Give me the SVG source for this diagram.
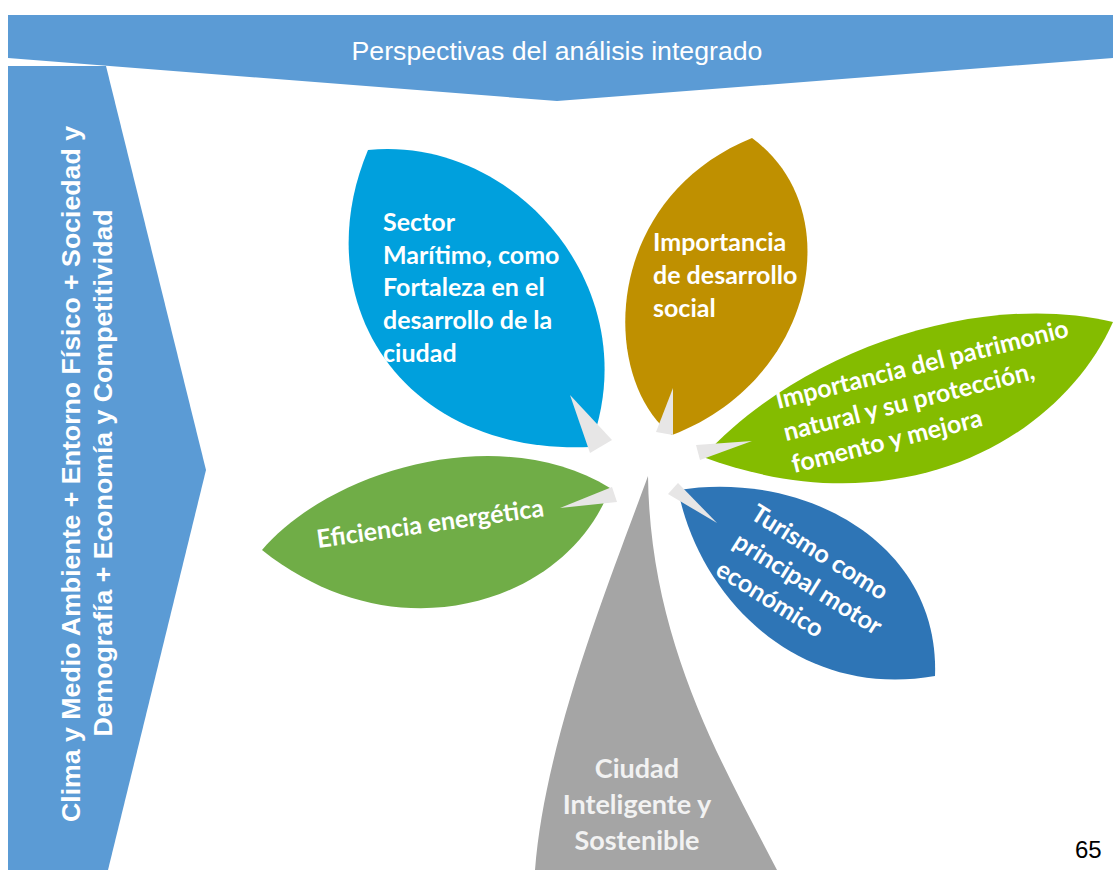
<svg xmlns="http://www.w3.org/2000/svg" width="1113" height="870" viewBox="0 0 1113 870">
<style>
.banner{fill:#5B9BD5}
.btxt{font-family:"Liberation Sans",Arial,sans-serif;fill:#fff}
.ptxt{font-family:Lato,"Open Sans",sans-serif;font-weight:bold;font-size:25px;fill:#fff}
.arrow{fill:#E7E6E6}
</style>
<rect width="1113" height="870" fill="#fff"/>
<g id="top-banner">
<polygon class="banner" points="8,15 1113,15 1113,58 557,101 8,58"/>
<text class="btxt" x="557" y="60" font-size="26.7" text-anchor="middle">Perspectivas del análisis integrado</text>
</g>
<g id="left-banner">
<polygon class="banner" points="8,66 106,66 206,470 108,870 8,870"/>
<text class="btxt" font-weight="bold" font-size="26.7" text-anchor="middle" transform="translate(80,474) rotate(-90)">Clima y Medio Ambiente + Entorno Físico + Sociedad y</text>
<text class="btxt" font-weight="bold" font-size="26.7" text-anchor="middle" transform="translate(112,473) rotate(-90)">Demografía + Economía y Competitividad</text>
</g>
<g id="petal-sector-maritimo">
<path d="M368,150 C515,135 650,290 590,447 C400,455 305,300 368,150 Z" fill="#00A0DD"/>
<text class="ptxt"><tspan x="383" y="231">Sector</tspan><tspan x="383" y="264">Marítimo, como</tspan><tspan x="383" y="296">Fortaleza en el</tspan><tspan x="383" y="329">desarrollo de la</tspan><tspan x="383" y="362">ciudad</tspan></text>
</g>
<g id="petal-desarrollo-social">
<path d="M752,138 C850,210 815,380 672,435 C600,380 600,200 752,138 Z" fill="#BF9000"/>
<text class="ptxt"><tspan x="653" y="251">Importancia</tspan><tspan x="653" y="284">de desarrollo</tspan><tspan x="653" y="317">social</tspan></text>
</g>
<g id="petal-patrimonio">
<path d="M703,457 C800,350 980,290 1113,322 C1060,440 900,530 703,457 Z" fill="#84BC00"/>
<text class="ptxt" transform="translate(778,409) rotate(-14)"><tspan x="0" y="0">Importancia del patrimonio</tspan><tspan x="0" y="33">natural y su protección,</tspan><tspan x="0" y="66">fomento y mejora</tspan></text>
</g>
<g id="petal-eficiencia">
<path d="M262,550 C330,470 500,420 610,488 C570,600 400,660 262,550 Z" fill="#70AD47"/>
<text class="ptxt" transform="translate(318,548) rotate(-8)">Eficiencia energética</text>
</g>
<g id="petal-turismo">
<path d="M678,490 C800,470 940,540 935,676 C800,700 700,600 678,490 Z" fill="#2E75B6"/>
<text class="ptxt" transform="translate(749,518) rotate(32)"><tspan x="0" y="0">Turismo como</tspan><tspan x="0" y="33">principal motor</tspan><tspan x="0" y="66">económico</tspan></text>
</g>
<g id="petal-ciudad">
<path d="M648,476 C610,580 545,740 535,870 L777,870 C720,760 650,640 648,476 Z" fill="#A5A5A5"/>
<text class="ptxt" style="fill:#F2F2F2;font-size:27px" text-anchor="middle"><tspan x="637" y="778">Ciudad</tspan><tspan x="637" y="814">Inteligente y</tspan><tspan x="637" y="850">Sostenible</tspan></text>
</g>
<g id="connectors">
<polygon class="arrow" points="570,395 612,440 590,453"/>
<polygon class="arrow" points="673,388 656,432 673,435"/>
<polygon class="arrow" points="696,445 752,441 700,460"/>
<polygon class="arrow" points="612,487 617,502 560,508"/>
<polygon class="arrow" points="678,483 668,494 717,523"/>
</g>
<g id="page-number">
<text x="1075" y="858" font-family="Liberation Sans,Arial,sans-serif" font-size="24" fill="#000">65</text>
</g>
</svg>
